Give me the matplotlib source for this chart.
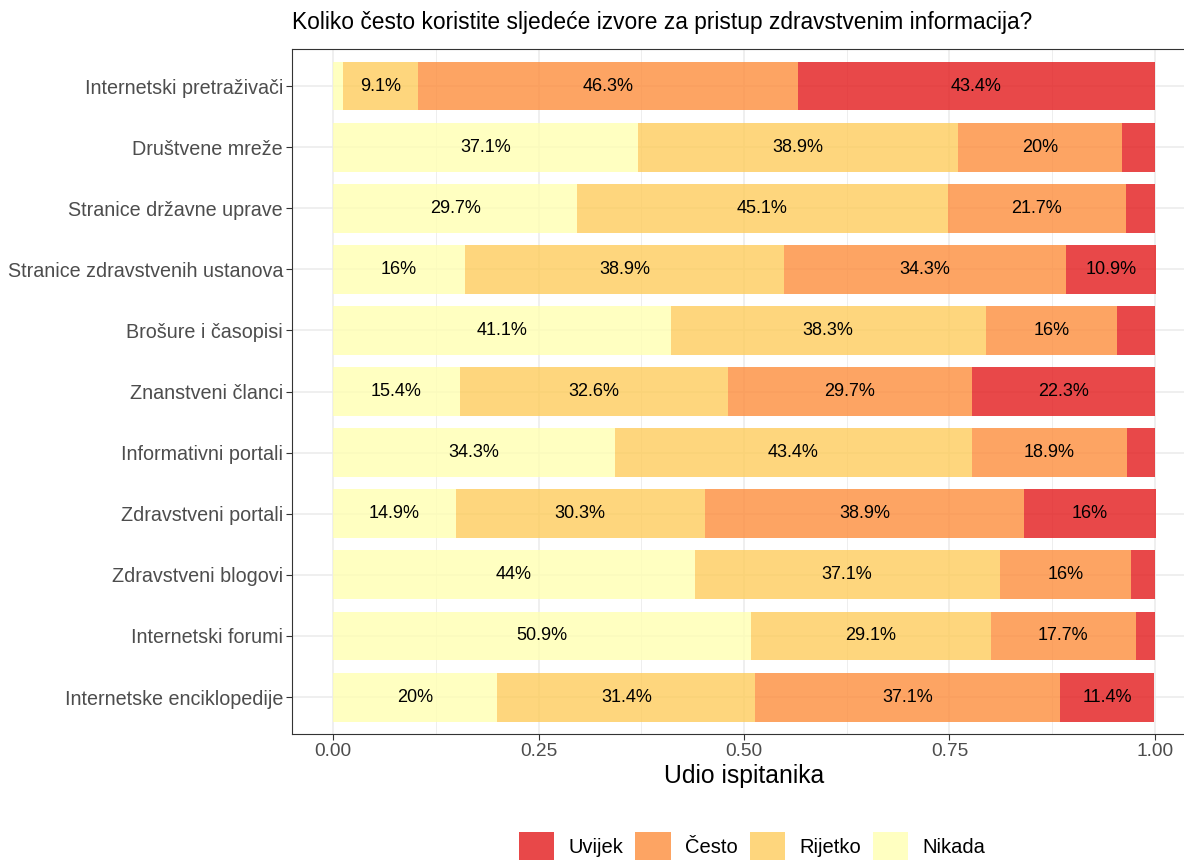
import matplotlib
matplotlib.use("Agg")
import matplotlib.pyplot as plt
import numpy as np

plt.rcParams['font.family'] = ['Liberation Sans', 'DejaVu Sans']

categories = ["Internetski pretraživači", "Društvene mreže", "Stranice državne uprave",
              "Stranice zdravstvenih ustanova", "Brošure i časopisi", "Znanstveni članci",
              "Informativni portali", "Zdravstveni portali", "Zdravstveni blogovi",
              "Internetski forumi", "Internetske enciklopedije"]
nikada  = [1.2, 37.1, 29.7, 16.0, 41.1, 15.4, 34.3, 14.9, 44.0, 50.9, 20.0]
rijetko = [9.1, 38.9, 45.1, 38.9, 38.3, 32.6, 43.4, 30.3, 37.1, 29.1, 31.4]
cesto   = [46.3, 20.0, 21.7, 34.3, 16.0, 29.7, 18.9, 38.9, 16.0, 17.7, 37.1]
uvijek  = [43.4, 4.0, 3.5, 10.9, 4.6, 22.3, 3.4, 16.0, 2.9, 2.3, 11.4]

series = [("Nikada", nikada, "#FFFFB2"), ("Rijetko", rijetko, "#FECC5C"),
          ("Često", cesto, "#FD8D3C"), ("Uvijek", uvijek, "#E31A1C")]
xticks = [0.0, 0.25, 0.5, 0.75, 1.0]
xticklabels = ["0.00", "0.25", "0.50", "0.75", "1.00"]

fig = plt.figure(figsize=(11.84, 8.61), dpi=100)
ax = fig.add_axes([0.2466, 0.1478, 0.7635, 0.7949])

n = len(categories)
y = np.arange(n)[::-1]
left = np.zeros(n)
handles = {}
for name, vals, col in series:
    v = np.array(vals) / 100.0
    bars = ax.barh(y, v, left=left, height=0.8, color=col, alpha=0.8, zorder=2, linewidth=0)
    handles[name] = bars
    for yi, l, w, raw in zip(y, left, v, vals):
        if raw >= 5:
            lab = f"{raw:g}%"
            ax.text(l + w / 2, yi, lab, ha='center', va='center', fontsize=13, color='black', zorder=3)
    left += v

ax.set_xlim(-0.05, 1.05)
ax.set_ylim(-0.6, n - 1 + 0.6)
ax.set_yticks(y)
ax.set_yticklabels(categories)
ax.set_xticks(xticks)
ax.set_xticklabels(xticklabels)
ax.set_xticks([0.125, 0.375, 0.625, 0.875], minor=True)
ax.tick_params(axis='both', which='major', labelcolor='#4D4D4D', color='#333333',
               length=4, pad=2.5)
ax.tick_params(axis='y', which='major', labelsize=14.2)
ax.tick_params(axis='x', which='major', labelsize=13.8)
ax.tick_params(axis='x', which='minor', length=0)
ax.grid(True, which='major', color='#EBEBEB', linewidth=1.1, zorder=0)
ax.grid(True, which='minor', axis='x', color='#EBEBEB', linewidth=0.6, zorder=0)
ax.set_axisbelow(True)
for s in ax.spines.values():
    s.set_color('#333333')
    s.set_linewidth(0.8)

ax.set_xlabel("Udio ispitanika", fontsize=17.8, color='black', labelpad=3)
fig.text(292 / 1184, 1 - 23 / 861, "Koliko često koristite sljedeće izvore za pristup zdravstvenim informacija?",
         fontsize=16.4, ha='left', va='center')

order = ["Uvijek", "Često", "Rijetko", "Nikada"]
leg = fig.legend([handles[k] for k in order], order, loc='center', bbox_to_anchor=(752 / 1184, 1 - 846 / 861),
                 ncol=4, frameon=False, fontsize=14.5, handlelength=1.75, handleheight=1.75,
                 columnspacing=0.6, handletextpad=0.7, borderpad=0, borderaxespad=0)

fig.savefig("out.png", dpi=100)
